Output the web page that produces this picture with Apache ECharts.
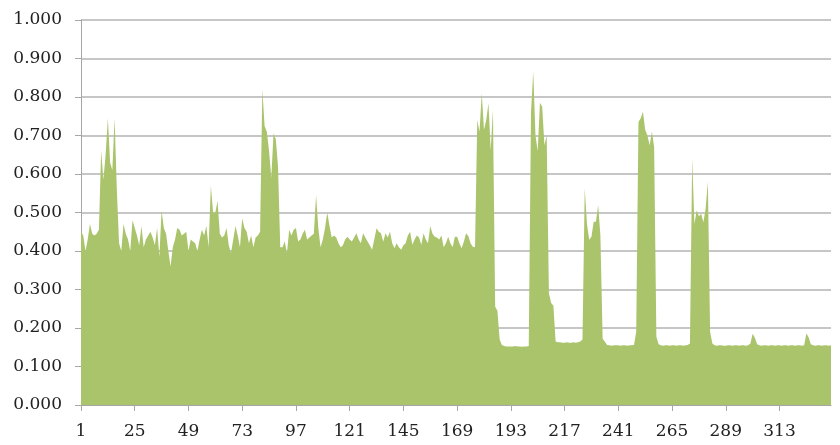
<!DOCTYPE html>
<html>
<head>
<meta charset="utf-8">
<script src="https://cdn.jsdelivr.net/npm/echarts@6/dist/echarts.min.js"></script>
<style>
  html, body { margin: 0; padding: 0; background: #fff; }
  #chart { width: 840px; height: 445px; }
</style>
</head>
<body>
<div id="chart"></div>
<script>
// hourly values, one array per day (24 points each)
const day01 = [0.45, 0.44, 0.40, 0.43, 0.47, 0.445, 0.44, 0.445, 0.455, 0.66, 0.585, 0.65, 0.745, 0.63, 0.61, 0.745, 0.56, 0.42, 0.40, 0.47, 0.445, 0.43, 0.40, 0.48];
const day02 = [0.46, 0.44, 0.415, 0.465, 0.41, 0.43, 0.44, 0.45, 0.435, 0.415, 0.46, 0.385, 0.505, 0.46, 0.445, 0.40, 0.36, 0.41, 0.43, 0.46, 0.455, 0.44, 0.445, 0.45];
const day03 = [0.40, 0.43, 0.425, 0.42, 0.40, 0.43, 0.455, 0.44, 0.465, 0.41, 0.57, 0.50, 0.50, 0.53, 0.445, 0.435, 0.44, 0.46, 0.415, 0.395, 0.43, 0.465, 0.44, 0.41];
const day04 = [0.485, 0.46, 0.45, 0.42, 0.44, 0.41, 0.435, 0.44, 0.45, 0.82, 0.725, 0.71, 0.66, 0.59, 0.705, 0.69, 0.62, 0.41, 0.41, 0.425, 0.395, 0.455, 0.44, 0.455];
const day05 = [0.46, 0.425, 0.43, 0.445, 0.455, 0.43, 0.435, 0.44, 0.445, 0.545, 0.46, 0.41, 0.43, 0.46, 0.50, 0.465, 0.435, 0.44, 0.435, 0.42, 0.41, 0.415, 0.43, 0.437];
const day06 = [0.43, 0.425, 0.435, 0.446, 0.43, 0.42, 0.446, 0.435, 0.425, 0.415, 0.403, 0.43, 0.459, 0.45, 0.446, 0.424, 0.446, 0.435, 0.45, 0.42, 0.407, 0.42, 0.41, 0.403];
const day07 = [0.415, 0.42, 0.44, 0.45, 0.416, 0.43, 0.44, 0.435, 0.416, 0.446, 0.43, 0.42, 0.465, 0.445, 0.437, 0.435, 0.43, 0.44, 0.41, 0.42, 0.437, 0.42, 0.41, 0.437];
const day08 = [0.437, 0.42, 0.407, 0.424, 0.446, 0.439, 0.42, 0.411, 0.41, 0.74, 0.71, 0.81, 0.714, 0.74, 0.784, 0.662, 0.766, 0.255, 0.245, 0.17, 0.156, 0.153, 0.152, 0.152];
const day09 = [0.152, 0.152, 0.153, 0.152, 0.152, 0.151, 0.152, 0.152, 0.153, 0.76, 0.866, 0.70, 0.66, 0.785, 0.775, 0.675, 0.70, 0.29, 0.265, 0.258, 0.165, 0.163, 0.163, 0.162];
const day10 = [0.162, 0.163, 0.162, 0.162, 0.163, 0.162, 0.163, 0.165, 0.17, 0.563, 0.47, 0.429, 0.437, 0.476, 0.476, 0.519, 0.44, 0.172, 0.164, 0.156, 0.155, 0.154, 0.155, 0.155];
const day11 = [0.155, 0.154, 0.155, 0.155, 0.154, 0.155, 0.155, 0.156, 0.19, 0.735, 0.745, 0.762, 0.715, 0.70, 0.675, 0.71, 0.67, 0.177, 0.158, 0.155, 0.154, 0.155, 0.155, 0.154];
const day12 = [0.155, 0.155, 0.154, 0.155, 0.155, 0.154, 0.155, 0.156, 0.16, 0.64, 0.47, 0.505, 0.49, 0.497, 0.475, 0.51, 0.58, 0.19, 0.16, 0.155, 0.154, 0.155, 0.155, 0.154];
const day13 = [0.154, 0.155, 0.155, 0.154, 0.155, 0.155, 0.154, 0.155, 0.155, 0.154, 0.155, 0.16, 0.185, 0.175, 0.158, 0.155, 0.154, 0.155, 0.155, 0.154, 0.155, 0.155, 0.154, 0.155];
const day14 = [0.155, 0.154, 0.155, 0.155, 0.154, 0.155, 0.155, 0.154, 0.155, 0.155, 0.154, 0.155, 0.186, 0.176, 0.158, 0.155, 0.154, 0.155, 0.155, 0.154, 0.155, 0.155, 0.154, 0.155];

const values = [].concat(day01, day02, day03, day04, day05, day06, day07,
                         day08, day09, day10, day11, day12, day13, day14);
// x categories are just the point numbers 1..336
const hours = values.map((_, i) => String(i + 1));

const labelFont = { fontFamily: 'DejaVu Serif', fontSize: 17, color: '#222' };

const chart = echarts.init(document.getElementById('chart'), null, { renderer: 'canvas' });
chart.setOption({
  animation: false,
  grid: { left: 81, right: 9, top: 20, bottom: 40, containLabel: false, outerBoundsMode: 'none' },
  xAxis: {
    type: 'category',
    data: hours,
    boundaryGap: false,
    axisLine: { lineStyle: { color: '#a6a6a6', width: 1 } },
    axisTick: { show: true, interval: 23, length: 6, lineStyle: { color: '#a6a6a6' } },
    axisLabel: { interval: 23, margin: 18, ...labelFont },
    splitLine: { show: false }
  },
  yAxis: {
    type: 'value',
    min: 0,
    max: 1,
    interval: 0.1,
    axisLine: { show: true, lineStyle: { color: '#a6a6a6', width: 1 } },
    axisTick: { show: true, length: 6, lineStyle: { color: '#a6a6a6' } },
    axisLabel: { margin: 19, formatter: v => v.toFixed(3), ...labelFont },
    splitLine: { lineStyle: { color: '#b3b3b3', width: 1.5 } }
  },
  series: [{
    type: 'line',
    data: values,
    showSymbol: false,
    lineStyle: { width: 0 },
    areaStyle: { color: '#aac46b', opacity: 1 },
    itemStyle: { color: '#aac46b' }
  }]
});
</script>
</body>
</html>
